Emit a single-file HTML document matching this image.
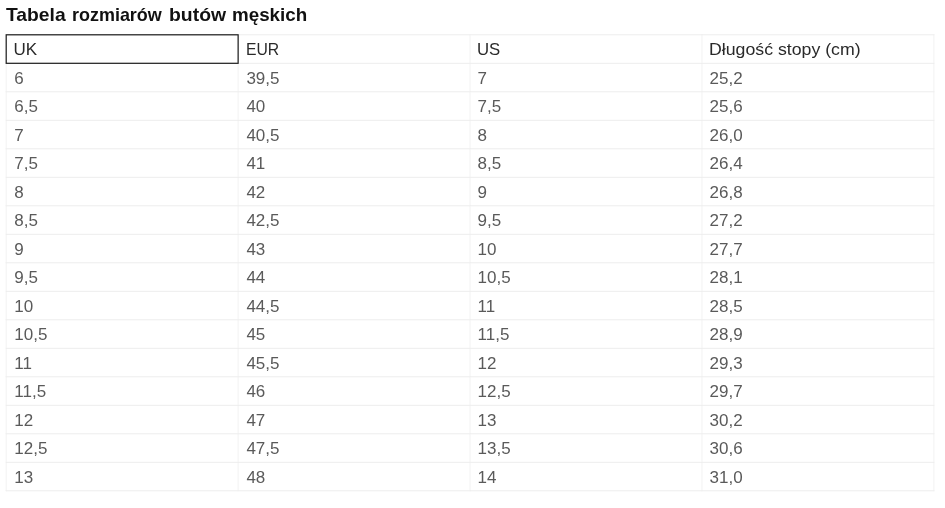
<!DOCTYPE html>
<html><head><meta charset="utf-8">
<style>
html,body{margin:0;padding:0;background:#fff;}
body{width:945px;height:508px;overflow:hidden;position:relative;font-family:"Liberation Sans",sans-serif;}
h1{will-change:transform;position:absolute;left:6px;top:3px;margin:0;font-size:19px;font-weight:bold;color:#111;line-height:24px;white-space:nowrap;}
svg{position:absolute;left:0;top:0;}
.r{will-change:transform;position:absolute;left:0;width:945px;height:28px;line-height:28px;font-size:17px;color:#5a5a5a;white-space:nowrap;}
.h{color:#2a2a2a;}
.c{position:absolute;top:0;}
h1 span{position:absolute;top:0;display:inline-block;transform-origin:0 50%;}
.c span{display:inline-block;transform-origin:0 50%;}

</style></head><body>
<h1><span style="left:0.3px;transform:scaleX(1.015)">Tabela</span><span style="left:66.2px;transform:scaleX(0.945)">rozmiarów</span><span style="left:163.3px;transform:scaleX(1.02)">butów</span><span style="left:225.6px;transform:scaleX(0.988)">męskich</span></h1>
<svg width="945" height="508" viewBox="0 0 945 508">
<rect x="5.70" y="34.30" width="1" height="457.00" fill="#f2f2f2"/>
<rect x="237.63" y="34.30" width="1" height="457.00" fill="#f2f2f2"/>
<rect x="469.56" y="34.30" width="1" height="457.00" fill="#f2f2f2"/>
<rect x="701.49" y="34.30" width="1" height="457.00" fill="#f2f2f2"/>
<rect x="933.42" y="34.30" width="1" height="457.00" fill="#f2f2f2"/>
<rect x="5.70" y="34.30" width="928.72" height="1" fill="#ededed"/>
<rect x="5.70" y="62.80" width="928.72" height="1" fill="#ededed"/>
<rect x="5.70" y="91.30" width="928.72" height="1" fill="#ededed"/>
<rect x="5.70" y="119.80" width="928.72" height="1" fill="#ededed"/>
<rect x="5.70" y="148.30" width="928.72" height="1" fill="#ededed"/>
<rect x="5.70" y="176.80" width="928.72" height="1" fill="#ededed"/>
<rect x="5.70" y="205.30" width="928.72" height="1" fill="#ededed"/>
<rect x="5.70" y="233.80" width="928.72" height="1" fill="#ededed"/>
<rect x="5.70" y="262.30" width="928.72" height="1" fill="#ededed"/>
<rect x="5.70" y="290.80" width="928.72" height="1" fill="#ededed"/>
<rect x="5.70" y="319.30" width="928.72" height="1" fill="#ededed"/>
<rect x="5.70" y="347.80" width="928.72" height="1" fill="#ededed"/>
<rect x="5.70" y="376.30" width="928.72" height="1" fill="#ededed"/>
<rect x="5.70" y="404.80" width="928.72" height="1" fill="#ededed"/>
<rect x="5.70" y="433.30" width="928.72" height="1" fill="#ededed"/>
<rect x="5.70" y="461.80" width="928.72" height="1" fill="#ededed"/>
<rect x="5.70" y="490.30" width="928.72" height="1" fill="#ededed"/>
<rect x="6.20" y="34.80" width="231.93" height="28.50" fill="none" stroke="#1c1c1c" stroke-width="1.2"/>
</svg>
<div class="r h" style="top:36px"><div class="c" style="left:13.5px"><span>UK</span></div><div class="c" style="left:245.6px"><span style="transform:scaleX(0.925)">EUR</span></div><div class="c" style="left:476.8px"><span style="transform:scaleX(0.985)">US</span></div><div class="c" style="left:708.7px"><span style="transform:scaleX(1.042)">Długość stopy (cm)</span></div></div>
<div class="r" style="top:65px"><div class="c" style="left:14.3px"><span>6</span></div><div class="c" style="left:246.4px"><span>39,5</span></div><div class="c" style="left:477.6px"><span>7</span></div><div class="c" style="left:709.5px"><span>25,2</span></div></div>
<div class="r" style="top:93px"><div class="c" style="left:14.3px"><span>6,5</span></div><div class="c" style="left:246.4px"><span>40</span></div><div class="c" style="left:477.6px"><span>7,5</span></div><div class="c" style="left:709.5px"><span>25,6</span></div></div>
<div class="r" style="top:122px"><div class="c" style="left:14.3px"><span>7</span></div><div class="c" style="left:246.4px"><span>40,5</span></div><div class="c" style="left:477.6px"><span>8</span></div><div class="c" style="left:709.5px"><span>26,0</span></div></div>
<div class="r" style="top:150px"><div class="c" style="left:14.3px"><span>7,5</span></div><div class="c" style="left:246.4px"><span>41</span></div><div class="c" style="left:477.6px"><span>8,5</span></div><div class="c" style="left:709.5px"><span>26,4</span></div></div>
<div class="r" style="top:179px"><div class="c" style="left:14.3px"><span>8</span></div><div class="c" style="left:246.4px"><span>42</span></div><div class="c" style="left:477.6px"><span>9</span></div><div class="c" style="left:709.5px"><span>26,8</span></div></div>
<div class="r" style="top:207px"><div class="c" style="left:14.3px"><span>8,5</span></div><div class="c" style="left:246.4px"><span>42,5</span></div><div class="c" style="left:477.6px"><span>9,5</span></div><div class="c" style="left:709.5px"><span>27,2</span></div></div>
<div class="r" style="top:236px"><div class="c" style="left:14.3px"><span>9</span></div><div class="c" style="left:246.4px"><span>43</span></div><div class="c" style="left:477.6px"><span>10</span></div><div class="c" style="left:709.5px"><span>27,7</span></div></div>
<div class="r" style="top:264px"><div class="c" style="left:14.3px"><span>9,5</span></div><div class="c" style="left:246.4px"><span>44</span></div><div class="c" style="left:477.6px"><span>10,5</span></div><div class="c" style="left:709.5px"><span>28,1</span></div></div>
<div class="r" style="top:293px"><div class="c" style="left:14.3px"><span>10</span></div><div class="c" style="left:246.4px"><span>44,5</span></div><div class="c" style="left:477.6px"><span>11</span></div><div class="c" style="left:709.5px"><span>28,5</span></div></div>
<div class="r" style="top:321px"><div class="c" style="left:14.3px"><span>10,5</span></div><div class="c" style="left:246.4px"><span>45</span></div><div class="c" style="left:477.6px"><span>11,5</span></div><div class="c" style="left:709.5px"><span>28,9</span></div></div>
<div class="r" style="top:350px"><div class="c" style="left:14.3px"><span>11</span></div><div class="c" style="left:246.4px"><span>45,5</span></div><div class="c" style="left:477.6px"><span>12</span></div><div class="c" style="left:709.5px"><span>29,3</span></div></div>
<div class="r" style="top:378px"><div class="c" style="left:14.3px"><span>11,5</span></div><div class="c" style="left:246.4px"><span>46</span></div><div class="c" style="left:477.6px"><span>12,5</span></div><div class="c" style="left:709.5px"><span>29,7</span></div></div>
<div class="r" style="top:407px"><div class="c" style="left:14.3px"><span>12</span></div><div class="c" style="left:246.4px"><span>47</span></div><div class="c" style="left:477.6px"><span>13</span></div><div class="c" style="left:709.5px"><span>30,2</span></div></div>
<div class="r" style="top:435px"><div class="c" style="left:14.3px"><span>12,5</span></div><div class="c" style="left:246.4px"><span>47,5</span></div><div class="c" style="left:477.6px"><span>13,5</span></div><div class="c" style="left:709.5px"><span>30,6</span></div></div>
<div class="r" style="top:464px"><div class="c" style="left:14.3px"><span>13</span></div><div class="c" style="left:246.4px"><span>48</span></div><div class="c" style="left:477.6px"><span>14</span></div><div class="c" style="left:709.5px"><span>31,0</span></div></div>
</body></html>
